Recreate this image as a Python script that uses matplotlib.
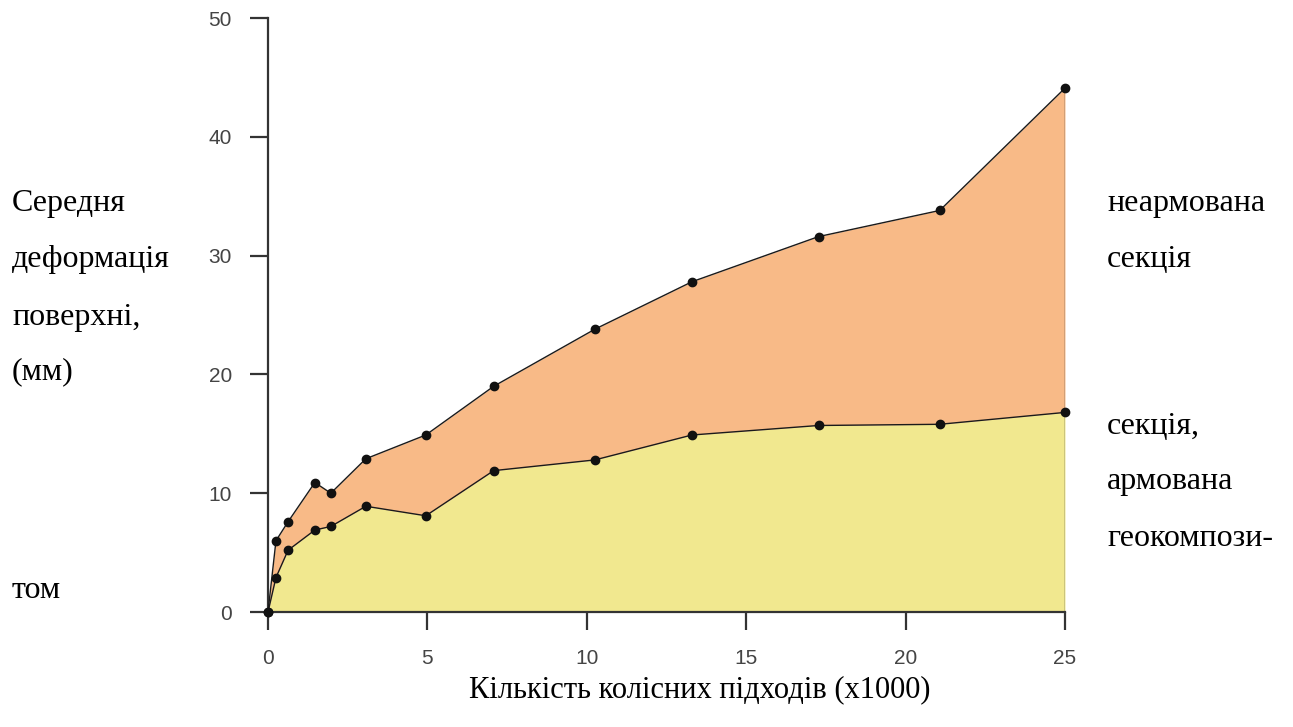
import matplotlib
matplotlib.use("Agg")
import matplotlib.pyplot as plt
import numpy as np

# Data (x in thousands of wheel passes, y in mm)
passes = [0, 0.25, 0.63, 1.47, 1.97, 3.07, 4.95, 7.08, 10.25, 13.3, 17.27, 21.07, 25.0]
unreinforced = [0, 6.0, 7.6, 10.9, 10.0, 12.9, 14.9, 19.0, 23.8, 27.8, 31.6, 33.8, 44.1]
reinforced = [0, 2.9, 5.2, 6.9, 7.2, 8.9, 8.1, 11.9, 12.8, 14.9, 15.7, 15.8, 16.8]

x_ticks = [0, 5, 10, 15, 20, 25]
y_ticks = [0, 10, 20, 30, 40, 50]

xlabel = "Кількість колісних підходів (x1000)"
left_lines = ["Середня", "деформація", "поверхні,", "(мм)"]
left_extra = "том"
right_top = ["неармована", "секція"]
right_bottom = ["секція,", "армована", "геокомпози-"]

ORANGE = "#F8BA87"
YELLOW = "#F1E88F"
SERIF = ["Liberation Serif", "DejaVu Serif"]
SANS = ["Liberation Sans", "DejaVu Sans"]

W, H = 1293, 727
fig = plt.figure(figsize=(W / 100, H / 100), dpi=100)
ax = fig.add_axes([268 / W, 1 - 612 / H, (1065 - 268) / W, (612 - 18) / H])

x = np.array(passes)
up = np.array(unreinforced)
lo = np.array(reinforced)

ax.fill_between(x, 0, lo, color=YELLOW, linewidth=0, zorder=1)
ax.fill_between(x, lo, up, color=ORANGE, linewidth=0, zorder=1)
ax.plot(x, up, color="#1a1a1a", lw=1.0, zorder=3)
ax.plot(x, lo, color="#1a1a1a", lw=1.0, zorder=3)
ax.vlines(x[-1], 0, up[-1], color="#333333", lw=1.0, zorder=3)
ax.scatter(x, up, s=36, color="#111111", zorder=4, clip_on=False)
ax.scatter(x, lo, s=36, color="#111111", zorder=4, clip_on=False)

ax.set_xlim(0, 25)
ax.set_ylim(0, 50)
ax.set_xticks(x_ticks)
ax.set_yticks(y_ticks)
for s in ["top", "right"]:
    ax.spines[s].set_visible(False)
for s in ["left", "bottom"]:
    ax.spines[s].set_color("#333333")
    ax.spines[s].set_linewidth(1.6)
ax.tick_params(axis="both", direction="out", length=13, width=1.6, color="#333333",
               labelcolor="#444444", labelsize=15)
ax.tick_params(axis="y", pad=13)
ax.tick_params(axis="x", pad=14)
for lab in ax.get_xticklabels() + ax.get_yticklabels():
    lab.set_family(SANS)

fs = 23
fig.text(700 / W, 1 - 690 / H, xlabel, ha="center", va="center",
         fontsize=22, family=SERIF)
left_y = [203, 260, 317, 372]
for t, yy in zip(left_lines, left_y):
    fig.text(12 / W, 1 - yy / H, t, ha="left", va="center", fontsize=fs, family=SERIF)
fig.text(12 / W, 1 - 590 / H, left_extra, ha="left", va="center", fontsize=fs, family=SERIF)
for t, yy in zip(right_top, [203, 260]):
    fig.text(1107 / W, 1 - yy / H, t, ha="left", va="center", fontsize=fs, family=SERIF)
for t, yy in zip(right_bottom, [427, 482, 538]):
    fig.text(1107 / W, 1 - yy / H, t, ha="left", va="center", fontsize=fs, family=SERIF)

fig.savefig("out.png", dpi=100)
